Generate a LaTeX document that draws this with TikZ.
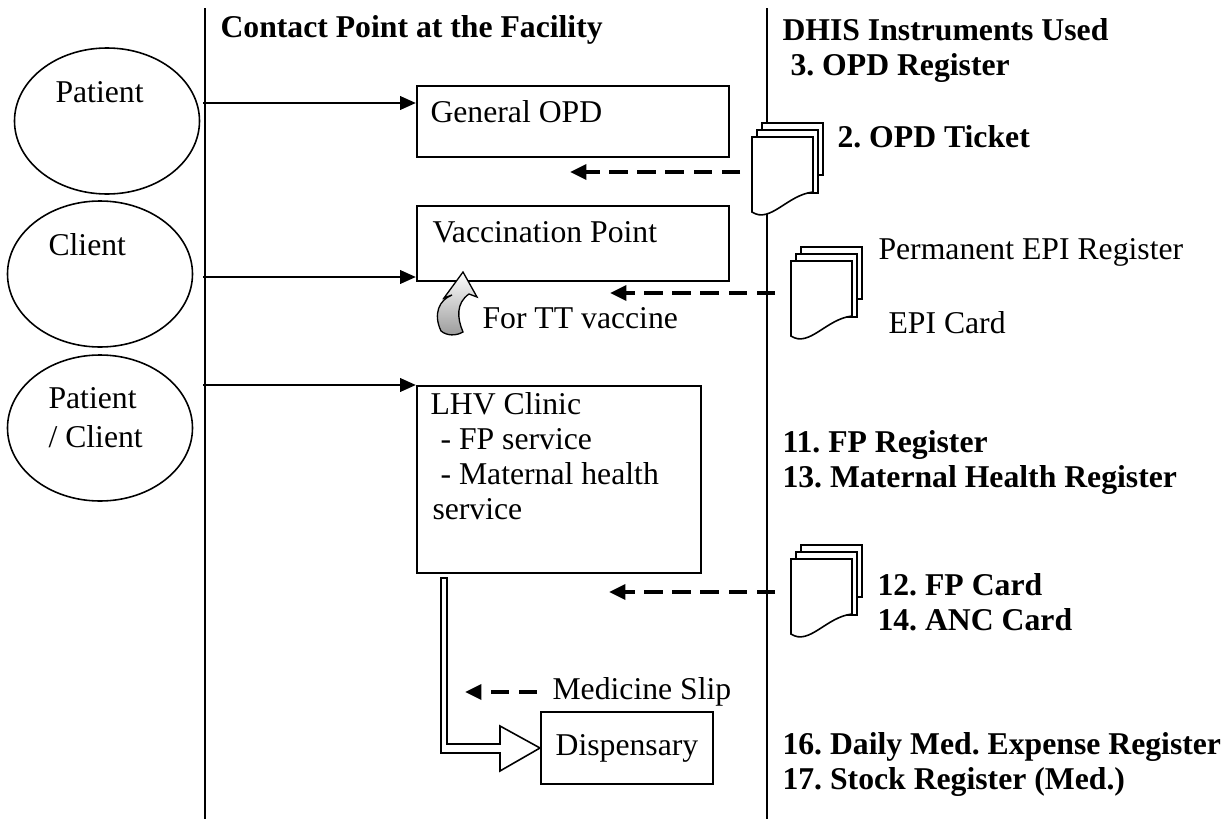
\documentclass[tikz,border=0pt]{standalone}
\usepackage{fontspec}
\setmainfont{Liberation Serif}
\usetikzlibrary{arrows.meta,positioning,calc,shapes.geometric}
\definecolor{InkBlack}{HTML}{000000}
\definecolor{TailGray}{HTML}{9A9A9A}
\def\pxu{0.3785pt}
\frenchspacing
% stack of three record pages, front page top left at #1,#2
\newcommand\docstack[2]{%
  \begin{scope}[shift={(#1,#2)}]
    \draw[page] (10,-14) rectangle (71,38);
    \draw[page] (5,-7) rectangle (66,56);
    \draw[page] (0,0) -- (61,0) -- (61,55) .. controls (35,58) and (18,87) .. (0,75) -- cycle;
  \end{scope}}

\begin{document}
\begin{tikzpicture}[x=\pxu,y=-\pxu,
    txt/.style={anchor=west,inner sep=0pt,font=\fontsize{12}{14}\selectfont},
    hdr/.style={txt,font=\fontsize{12}{14}\selectfont\bfseries},
    flowbox/.style={draw=InkBlack,line width=0.75pt,anchor=north west,inner sep=0pt},
    person/.style={draw=InkBlack,ellipse,line width=0.6pt,minimum width=185*\pxu,minimum height=146*\pxu,inner sep=0pt},
    feed/.style={line width=1.1pt,-{Triangle[length=6pt,width=5pt]}},
    record/.style={line width=1.5pt,dash pattern=on 7pt off 3.6pt,-{Triangle[length=6.2pt,width=5.6pt]}},
    page/.style={draw=InkBlack,fill=white,line width=0.6pt}]
  \useasboundingbox (0,0) rectangle (1231,819);

  \draw[line width=0.75pt] (205,8) -- (205,819);
  \draw[line width=0.75pt] (767,8) -- (767,819);
  \node[hdr] (colfacility) at (220,30) {Contact Point at the Facility};
  \node[hdr] (coldhis) at (782,30) {DHIS Instruments Used};
  \node[hdr] (opdreg) at (790,68) {3. OPD Register};

  % who comes in
  \node[person] (patient) at (107,121) {};
  \node[person] (client) at (100,274) {};
  \node[person] (patclient) at (100,428) {};
  \node[txt] (patientlbl) at (55,92) {Patient};
  \node[txt] (clientlbl) at (48,245) {Client};
  \node[txt] (patclientlbl) at (48,398) {Patient};
  \node[txt] (patclientlblb) at (48,437) {/ Client};

  % contact points
  \node[flowbox,minimum width=312*\pxu,minimum height=71*\pxu] (opd) at (416,85) {};
  \node[flowbox,minimum width=312*\pxu,minimum height=75*\pxu] (vacc) at (416,205) {};
  \node[flowbox,minimum width=284*\pxu,minimum height=187*\pxu] (lhv) at (416,385) {};
  \node[flowbox,minimum width=172*\pxu,minimum height=72*\pxu,font=\fontsize{12}{14}\selectfont] (disp) at (540,711) {Dispensary};
  \node[txt] (opdlbl) at (430,112) {General OPD};
  \node[txt] (vacclbl) at (432,232) {Vaccination Point};
  \node[txt] (lhvlbl) at (430,404) {LHV Clinic};
  \node[txt] (lhvfp) at (440,439) {- FP service};
  \node[txt] (lhvmh) at (440,474) {- Maternal health};
  \node[txt] (lhvmhb) at (432,509) {service};

  \coordinate (inA) at (203,103);
  \coordinate (inB) at (203,277);
  \coordinate (inC) at (203,385);
  \draw[feed] (inA) -- (inA -| opd.west);
  \draw[feed] (inB) -- (inB -| vacc.west);
  \draw[feed] (inC) -- (inC -| lhv.west);

  % records
  \docstack{752}{137}
  \docstack{791}{261}
  \docstack{791}{559}
  \node[hdr] (ticket) at (837,137) {2. OPD Ticket};
  \node[txt] (epireg) at (878,252) {Permanent EPI Register};
  \node[txt] (epicard) at (888,323) {EPI Card};
  \node[hdr] (fpreg) at (782,445) {11. FP Register};
  \node[hdr] (mhreg) at (782,480) {13. Maternal Health Register};
  \node[hdr] (fpcard) at (877,585) {12. FP Card};
  \node[hdr] (anccard) at (877,620) {14. ANC Card};
  \node[hdr] (medreg) at (782,747) {16. Daily Med. Expense Register};
  \node[hdr] (stockreg) at (782,782) {17. Stock Register (Med.)};

  \coordinate (ticketsrc) at (740,172);
  \coordinate (ticketdst) at (570,172);
  \coordinate (episrc) at (775,293);
  \coordinate (epidst) at (610,293);
  \coordinate (fpsrc) at (775,592);
  \coordinate (fpdst) at (609,592);
  \draw[record] (ticketsrc) -- (ticketdst);
  \draw[record] (episrc) -- (epidst);
  \draw[record] (fpsrc) -- (fpdst);

  % TT vaccine hand-over
  \shade[draw=InkBlack,line width=0.5pt,top color=white,bottom color=TailGray]
    (463,272) -- (477,297) -- (469,294)
    .. controls (456,303) and (457,318) .. (463,332)
    .. controls (456,336) and (447,336) .. (441,331)
    .. controls (433,314) and (439,300) .. (452,295)
    -- (444,298) -- cycle;
  \node[txt] (ttlbl) at (482,318) {For TT vaccine};

  % to the dispensary
  \draw[page] (disp.west) -- ++(-40,-22) -- ++(0,18) -- ++(-53,0)
    -- ($(lhv.south west)+(31,4)$) -- ++(-6,0) -- ++(0,175) -- ++(59,0) -- ++(0,18) -- cycle;
  \node[txt] (sliplbl) at (552,692) {Medicine Slip};
  \coordinate (slipsrc) at (537,692);
  \coordinate (slipdst) at (465,692);
  \draw[record] (slipsrc) -- (slipdst);
\end{tikzpicture}
\end{document}
